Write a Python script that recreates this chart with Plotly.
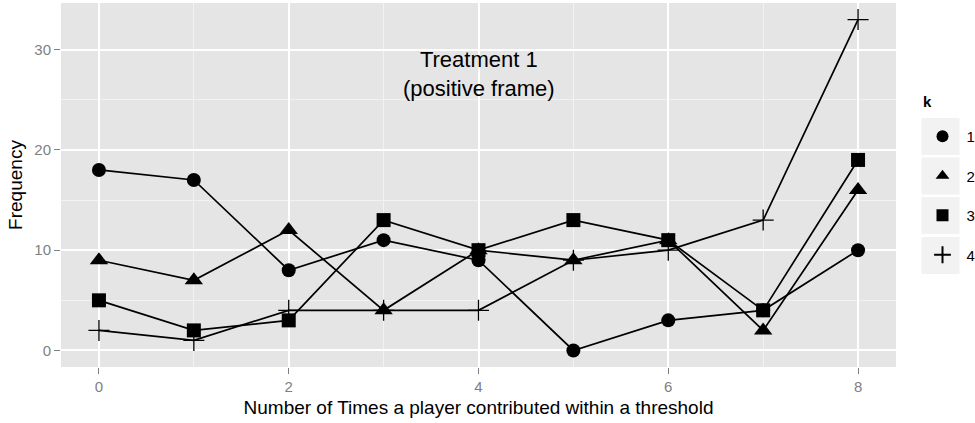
import plotly.graph_objects as go

x_vals = [0, 1, 2, 3, 4, 5, 6, 7, 8]
k1 = [18, 17, 8, 11, 9, 0, 3, 4, 10]
k2 = [9, 7, 12, 4, 10, 9, 11, 2, 16]
k3 = [5, 2, 3, 13, 10, 13, 11, 4, 19]
k4 = [2, 1, 4, 4, 4, 9, 10, 13, 33]
series_names = ["1", "2", "3", "4"]
series_vals = [k1, k2, k3, k4]
symbols = ["circle", "triangle-up", "square", "cross-thin"]
sizes = [14, 16, 14, 15]

FONT = "Liberation Sans, Arial, Helvetica, sans-serif"

fig = go.Figure()
for name, vals in zip(series_names, series_vals):
    fig.add_trace(go.Scatter(x=x_vals, y=vals, mode="lines",
                             line=dict(color="black", width=1.7),
                             showlegend=False, hoverinfo="skip"))
for name, vals, sym, sz in zip(series_names, series_vals, symbols, sizes):
    fig.add_trace(go.Scatter(
        x=x_vals, y=vals, mode="markers", name=name, legendgroup=name,
        marker=dict(symbol=sym, size=sz, color="black",
                    line=dict(color="black", width=1.3 if sym == "cross-thin" else 0))))

# legend key backgrounds (pixel layout -> paper coords)
L, R, T, B = 61, 896, 3, 367
W, H = R - L, B - T
def px(xp): return (xp - L) / W
def py(yp): return (B - yp) / H
for c in [136.5, 176, 215.5, 255.5]:
    fig.add_shape(type="rect", xref="paper", yref="paper",
                  x0=px(921.5), x1=px(959.5), y0=py(c - 18.5), y1=py(c + 18.5),
                  fillcolor="#F2F2F2", line=dict(width=0), layer="below")

fig.add_annotation(x=4, y=27.6, xref="x", yref="y",
                   text="Treatment 1<br>(positive frame)", showarrow=False,
                   font=dict(family=FONT, size=22, color="black"))
# legend title
fig.add_annotation(x=px(921), y=py(101.5), xref="paper", yref="paper",
                   xanchor="left", yanchor="middle", text="<b>k</b>", showarrow=False,
                   font=dict(family=FONT, size=15, color="black"))

fig.update_layout(
    width=975, height=423,
    margin=dict(l=L, r=975 - R, t=T, b=423 - B, autoexpand=False),
    paper_bgcolor="white", plot_bgcolor="#E5E5E5",
    font=dict(family=FONT, color="black"),
    legend=dict(x=px(918.5), y=py(120), xanchor="left", yanchor="top",
                font=dict(size=15, family=FONT), itemwidth=38,
                tracegroupgap=17, bgcolor="rgba(0,0,0,0)", itemsizing="constant"),
    xaxis=dict(range=[-0.4, 8.4], tickvals=[0, 2, 4, 6, 8], ticks="outside",
               ticklen=6, tickwidth=1.3, tickcolor="#7F7F7F",
               tickfont=dict(size=15, color="#7F7F7F"),
               showgrid=True, gridcolor="white", gridwidth=2, zeroline=False,
               minor=dict(tickvals=[1, 3, 5, 7], showgrid=True, gridcolor="#F2F2F2", gridwidth=1, ticks=""),
               title=dict(text="Number of Times a player contributed within a threshold",
                          font=dict(size=19), standoff=6)),
    yaxis=dict(range=[-1.65, 34.65], tickvals=[0, 10, 20, 30], ticks="outside",
               ticklen=6, tickwidth=1.3, tickcolor="#7F7F7F",
               tickfont=dict(size=15, color="#7F7F7F"),
               showgrid=True, gridcolor="white", gridwidth=2, zeroline=False,
               minor=dict(tickvals=[5, 15, 25], showgrid=True, gridcolor="#F2F2F2", gridwidth=1, ticks=""),
               title=dict(text="Frequency", font=dict(size=19), standoff=6)),
)

fig.write_html("out.html", config={"displayModeBar": False},
               post_script="document.body.style.margin='0';")
